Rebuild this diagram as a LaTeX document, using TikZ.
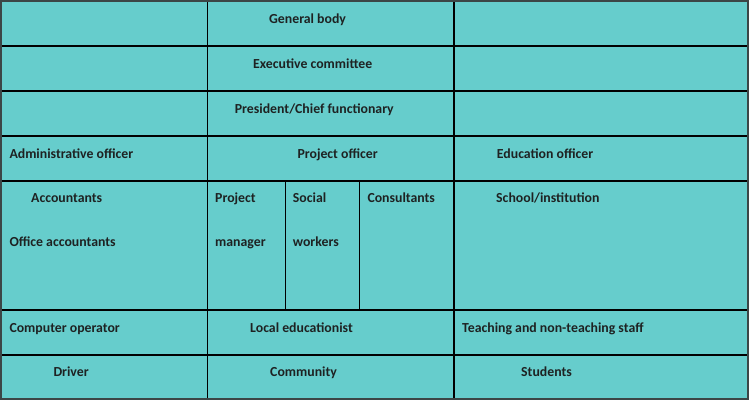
\documentclass[tikz,border=0pt]{standalone}
\usepackage{fontspec}
\setmainfont{Carlito}
\definecolor{cellteal}{RGB}{102,205,204}
\definecolor{txt}{RGB}{30,34,34}
\definecolor{frame}{RGB}{60,70,70}
\begin{document}
\begin{tikzpicture}[x=1pt,y=-1pt,
  lbl/.style={anchor=base west,inner sep=0pt,text=txt,font=\fontsize{13.8}{16}\selectfont\bfseries},
  grid/.style={draw=black,line width=1.3pt}]
\useasboundingbox (0,0) rectangle (750,401);
\fill[white] (0,0) rectangle (750,401);
\fill[cellteal] (1,1) rectangle (748,399);
% horizontal rules
\foreach \yy in {46,91,136,181,310,355}
  \draw[grid] (1,\yy) -- (748,\yy);
% vertical rules
\draw[grid] (207.3,1) -- (207.3,399);
\draw[grid] (454,1) -- (454,399);
\draw[grid] (285.3,181) -- (285.3,310);
\draw[grid] (359.3,181) -- (359.3,310);
\draw[draw=frame,line width=2pt] (1,1) rectangle (748,399);
% texts
\node[lbl] (gb) at (269,24) {General body};
\node[lbl] (ec) at (253,69) {Executive committee};
\node[lbl] (pc) at (234.7,113.3) {President/Chief functionary};
\node[lbl] (ao) at (9.3,158.3) {Administrative officer};
\node[lbl] (po) at (297.3,158.3) {Project officer};
\node[lbl] (eo) at (496.7,158.3) {Education officer};
\node[lbl] (ac) at (31,202.7) {Accountants};
\node[lbl] (oa) at (9.3,246) {Office accountants};
\node[lbl] (pm1) at (215,202.7) {Project};
\node[lbl] (pm2) at (215,246) {manager};
\node[lbl] (sw1) at (292.7,202.7) {Social};
\node[lbl] (sw2) at (292.7,246) {workers};
\node[lbl] (cs) at (367.3,202.7) {Consultants};
\node[lbl] (si) at (496,202.7) {School/institution};
\node[lbl] (co) at (9.3,332.7) {Computer operator};
\node[lbl] (le) at (250,332.7) {Local educationist};
\node[lbl] (ts) at (462,332.7) {Teaching and non-teaching staff};
\node[lbl] (dr) at (53.3,376.7) {Driver};
\node[lbl] (cm) at (270,376.7) {Community};
\node[lbl] (st) at (521,376.7) {Students};
\end{tikzpicture}
\end{document}
